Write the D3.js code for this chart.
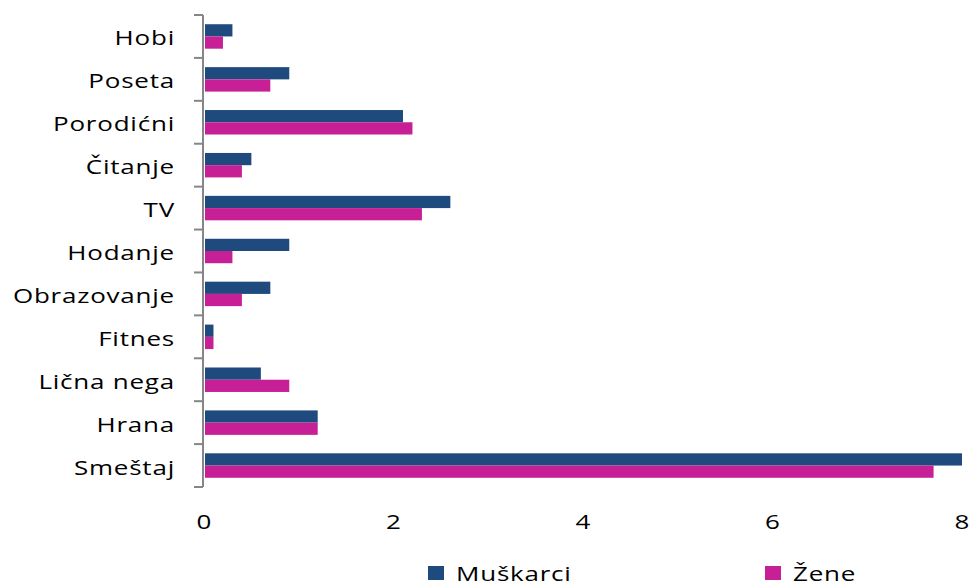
<!DOCTYPE html>
<html><head><meta charset="utf-8">
<script src="https://cdn.jsdelivr.net/npm/d3@7"></script>
<style>body{margin:0;background:#fff}svg{display:block}text{font-family:"Open Sans",sans-serif;fill:#000}</style>
</head><body>
<script>
const categories = ["Hobi","Poseta","Porodićni","Čitanje","TV","Hodanje","Obrazovanje","Fitnes","Lična nega","Hrana","Smeštaj"];
const muskarci = [0.3,0.9,2.1,0.5,2.6,0.9,0.7,0.1,0.6,1.2,8.0];
const zene = [0.2,0.7,2.2,0.4,2.3,0.3,0.4,0.1,0.9,1.2,7.7];
const seriesNames = ["Muškarci","Žene"];
const colors = ["#1F4A7E","#C71F96"];
const xTicks = [0,2,4,6,8];

const W=975,H=587, SX=1.3;
const svg=d3.select("body").append("svg").attr("width",W).attr("height",H);
const x=d3.scaleLinear().domain([0,8]).range([204,962]);
const y=d3.scaleBand().domain(categories).range([15,487]).paddingInner(0.43).paddingOuter(0.215);
const sub=d3.scaleBand().domain(seriesNames).range([0,y.bandwidth()]);

const bandsAll=d3.scaleBand().domain(categories).range([15,487]);
svg.append("line").attr("x1",203).attr("x2",203).attr("y1",15).attr("y2",487).attr("stroke","#868686").attr("stroke-width",2);
const tickYs=categories.map(c=>bandsAll(c)).concat([487]);
svg.selectAll(".tk").data(tickYs).enter().append("line").attr("x1",194).attr("x2",203).attr("y1",d=>d).attr("y2",d=>d).attr("stroke","#868686").attr("stroke-width",2);

const data=categories.map((c,i)=>({c,vals:[muskarci[i],zene[i]]}));
const g=svg.selectAll(".grp").data(data).enter().append("g").attr("transform",d=>`translate(0,${y(d.c)})`);
g.selectAll("rect").data(d=>d.vals.map((v,j)=>({v,j}))).enter().append("rect")
 .attr("x",x(0)+1).attr("y",d=>sub(seriesNames[d.j]))
 .attr("width",d=>x(d.v)-x(0)-1).attr("height",sub.bandwidth())
 .attr("fill",d=>colors[d.j]);

// category labels (horizontally stretched like the reference)
svg.selectAll(".cl").data(categories).enter().append("text")
 .attr("transform",c=>`translate(175,${bandsAll(c)+bandsAll.bandwidth()/2+9}) scale(${SX},1)`)
 .attr("text-anchor","end").style("font-size","20px").style("letter-spacing","0.6px").text(c=>c);

// x tick labels
svg.selectAll(".xl").data(xTicks).enter().append("text")
 .attr("transform",d=>`translate(${x(d)},529) scale(${SX},1)`)
 .attr("text-anchor","middle").style("font-size","20px").text(d=>d);

// legend
const legX=[428,765];
seriesNames.forEach((s,i)=>{
 svg.append("rect").attr("x",legX[i]).attr("y",566).attr("width",16).attr("height",14).attr("fill",colors[i]);
 svg.append("text").attr("transform",`translate(${legX[i]+28},581) scale(${SX},1)`).style("font-size","20px").style("letter-spacing","0.6px").text(s);
});
</script>
</body></html>
